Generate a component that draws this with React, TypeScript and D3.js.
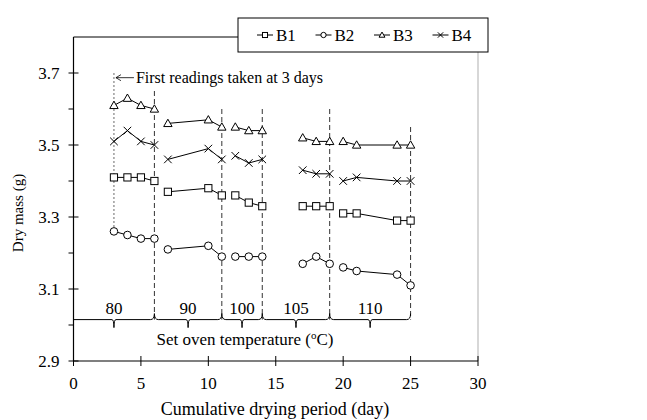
import React from "react";
import * as d3 from "d3";

// drying days, grouped by oven set temperature
const periodDays = [
  [3, 4, 5, 6],
  [7, 10, 11],
  [12, 13, 14],
  [17, 18, 19],
  [20, 21, 24, 25],
];
const b1 = [
  [3.41, 3.41, 3.41, 3.4],
  [3.37, 3.38, 3.36],
  [3.36, 3.34, 3.33],
  [3.33, 3.33, 3.33],
  [3.31, 3.31, 3.29, 3.29],
];
const b2 = [
  [3.26, 3.25, 3.24, 3.24],
  [3.21, 3.22, 3.19],
  [3.19, 3.19, 3.19],
  [3.17, 3.19, 3.17],
  [3.16, 3.15, 3.14, 3.11],
];
const b3 = [
  [3.61, 3.63, 3.61, 3.6],
  [3.56, 3.57, 3.55],
  [3.55, 3.54, 3.54],
  [3.52, 3.51, 3.51],
  [3.51, 3.5, 3.5, 3.5],
];
const b4 = [
  [3.51, 3.54, 3.51, 3.5],
  [3.46, 3.49, 3.46],
  [3.47, 3.45, 3.46],
  [3.43, 3.42, 3.42],
  [3.4, 3.41, 3.4, 3.4],
];
const seriesNames = ["B1", "B2", "B3", "B4"];
const seriesMarkers = ["square", "circle", "triangle", "cross"];

const temperatures = ["80", "90", "100", "105", "110"];
const periodBounds = [0, 6, 11, 14, 19, 25];
const dividerTops = [3.65, 3.6, 3.6, 3.6, 3.55];

const xTicks = [0, 5, 10, 15, 20, 25, 30];
const yTicks = [2.9, 3.0, 3.1, 3.2, 3.3, 3.4, 3.5, 3.6, 3.7];
const yLabels = [2.9, 3.1, 3.3, 3.5, 3.7];

const font = "'Liberation Serif', 'Times New Roman', serif";

const x = d3.scaleLinear().domain([0, 30]).range([73.5, 478]);
const y = d3.scaleLinear().domain([2.9, 3.8]).range([361, 37]);

const bracketY = y(3.015);

function Marker({ type, cx, cy, s = 1 }: { type: string; cx: number; cy: number; s?: number }) {
  const common = { stroke: "#000", strokeWidth: 1, fill: "#fff" };
  if (type === "square") {
    const h = 3.6 * s;
    return <rect x={cx - h} y={cy - h} width={2 * h} height={2 * h} {...common} />;
  }
  if (type === "circle") {
    return <circle cx={cx} cy={cy} r={3.8 * s} {...common} />;
  }
  if (type === "triangle") {
    const h = 4.2 * s;
    return (
      <path
        d={`M${cx},${cy - h}L${cx + h},${cy + h * 0.75}L${cx - h},${cy + h * 0.75}Z`}
        {...common}
      />
    );
  }
  const h = 3.8 * s;
  return (
    <path
      d={`M${cx - h},${cy - h}L${cx + h},${cy + h}M${cx - h},${cy + h}L${cx + h},${cy - h}`}
      stroke="#000"
      strokeWidth={1}
      fill="none"
    />
  );
}

export default function App() {
  const series = [b1, b2, b3, b4];
  const line = d3
    .line<[number, number]>()
    .x((d) => x(d[0]))
    .y((d) => y(d[1]));

  // curly bracket segments under each temperature period
  const bracketPaths = temperatures.map((_, i) => {
    const x0 = i === 0 ? x(0) : x(periodBounds[i]);
    const x1 = x(periodBounds[i + 1]);
    const xm = x((periodBounds[i] + periodBounds[i + 1]) / 2);
    const yb = bracketY;
    const startHook = i === 0 ? `M${x0},${yb}` : `M${x0},${yb - 6}Q${x0},${yb} ${x0 + 4},${yb}`;
    const endHook = `L${x1 - 4},${yb}Q${x1},${yb} ${x1},${yb - 6}`;
    return `${startHook}L${xm - 2},${yb}Q${xm},${yb} ${xm},${yb + 8}Q${xm},${yb} ${xm + 2},${yb}${endHook}`;
  });

  return (
    <svg width={647} height={420} style={{ display: "block", position: "absolute", left: 0, top: 0 }}>
      <rect width={647} height={420} fill="#fff" />

      {/* plot frame */}
      <line x1={x(30)} x2={x(30)} y1={y(3.8)} y2={y(2.9)} stroke="#bdbdbd" strokeWidth={1.2} />
      <line x1={x(0)} x2={x(30)} y1={y(3.8)} y2={y(3.8)} stroke="#000" strokeWidth={1} />

      {/* y axis */}
      <line x1={x(0)} x2={x(0)} y1={y(3.8)} y2={y(2.9)} stroke="#000" strokeWidth={1.2} />
      {yTicks.map((t) => {
        const major = yLabels.some((l) => Math.abs(l - t) < 1e-6);
        return (
          <line
            key={t}
            x1={x(0) - 5}
            x2={x(0) + (major ? 5 : 0)}
            y1={y(t)}
            y2={y(t)}
            stroke="#000"
            strokeWidth={1}
          />
        );
      })}
      {yLabels.map((t) => (
        <text
          key={t}
          x={x(0) - 14}
          y={y(t)}
          dy="0.34em"
          textAnchor="end"
          fontFamily={font}
          fontSize={17}
        >
          {t.toFixed(1)}
        </text>
      ))}

      {/* x axis */}
      <line x1={x(0)} x2={x(30)} y1={y(2.9)} y2={y(2.9)} stroke="#000" strokeWidth={1.2} />
      {xTicks.map((t) => (
        <g key={t}>
          <line x1={x(t)} x2={x(t)} y1={y(2.9) - 5} y2={y(2.9) + 5} stroke="#000" strokeWidth={1} />
          <text x={x(t)} y={389} textAnchor="middle" fontFamily={font} fontSize={17}>
            {t}
          </text>
        </g>
      ))}

      {/* period dividers */}
      {periodBounds.slice(1).map((d, i) => (
        <line
          key={d}
          x1={x(d)}
          x2={x(d)}
          y1={y(dividerTops[i])}
          y2={bracketY}
          stroke="#333"
          strokeWidth={1}
          strokeDasharray="5,3"
        />
      ))}
      {/* first reading marker */}
      <line
        x1={x(3)}
        x2={x(3)}
        y1={y(3.7)}
        y2={y(b2[0][0])}
        stroke="#444"
        strokeWidth={0.8}
        strokeDasharray="2,2"
      />
      <path
        d={`M${x(3) + 20},${y(3.687)}L${x(3) + 2},${y(3.687)}M${x(3) + 7},${y(3.687) - 3}L${x(3) + 2},${y(3.687)}L${x(3) + 7},${y(3.687) + 3}`}
        stroke="#000"
        strokeWidth={0.8}
        fill="none"
      />
      <text x={x(3) + 22} y={y(3.687)} dy="0.33em" fontFamily={font} fontSize={16}>
        First readings taken at 3 days
      </text>

      {/* series */}
      {series.map((s, si) => (
        <g key={seriesNames[si]}>
          {s.map((vals, pi) => {
            const pts = vals.map((v, k) => [periodDays[pi][k], v] as [number, number]);
            return (
              <g key={pi}>
                <path d={line(pts) ?? ""} fill="none" stroke="#000" strokeWidth={1} />
                {pts.map((p, k) => (
                  <Marker key={k} type={seriesMarkers[si]} cx={x(p[0])} cy={y(p[1])} />
                ))}
              </g>
            );
          })}
        </g>
      ))}

      {/* temperature brackets */}
      {bracketPaths.map((d, i) => (
        <path key={i} d={d} fill="none" stroke="#000" strokeWidth={1} />
      ))}
      {temperatures.map((t, i) => (
        <text
          key={t}
          x={x((periodBounds[i] + periodBounds[i + 1]) / 2)}
          y={bracketY - 6}
          textAnchor="middle"
          fontFamily={font}
          fontSize={17}
        >
          {t}
        </text>
      ))}
      <text x={245} y={345} textAnchor="middle" fontFamily={font} fontSize={17}>
        Set oven temperature (<tspan fontSize={11} dy={-6}>o</tspan>
        <tspan dy={6}>C)</tspan>
      </text>

      {/* axis titles */}
      <text x={275} y={415} textAnchor="middle" fontFamily={font} fontSize={18}>
        Cumulative drying period (day)
      </text>
      <text
        transform={`translate(23,${213}) rotate(-90)`}
        textAnchor="middle"
        fontFamily={font}
        fontSize={15}
      >
        Dry mass (g)
      </text>

      {/* legend */}
      <rect x={238} y={18} width={250} height={34} fill="#fff" stroke="#000" strokeWidth={1} />
      {seriesNames.map((n, i) => {
        const lx = 257 + i * 58.5;
        return (
          <g key={n}>
            <line x1={lx} x2={lx + 16} y1={35} y2={35} stroke="#000" strokeWidth={1} />
            <Marker type={seriesMarkers[i]} cx={lx + 8} cy={35} s={0.7} />
            <text x={lx + 19} y={35} dy="0.34em" fontFamily={font} fontSize={17}>
              {n}
            </text>
          </g>
        );
      })}
    </svg>
  );
}
